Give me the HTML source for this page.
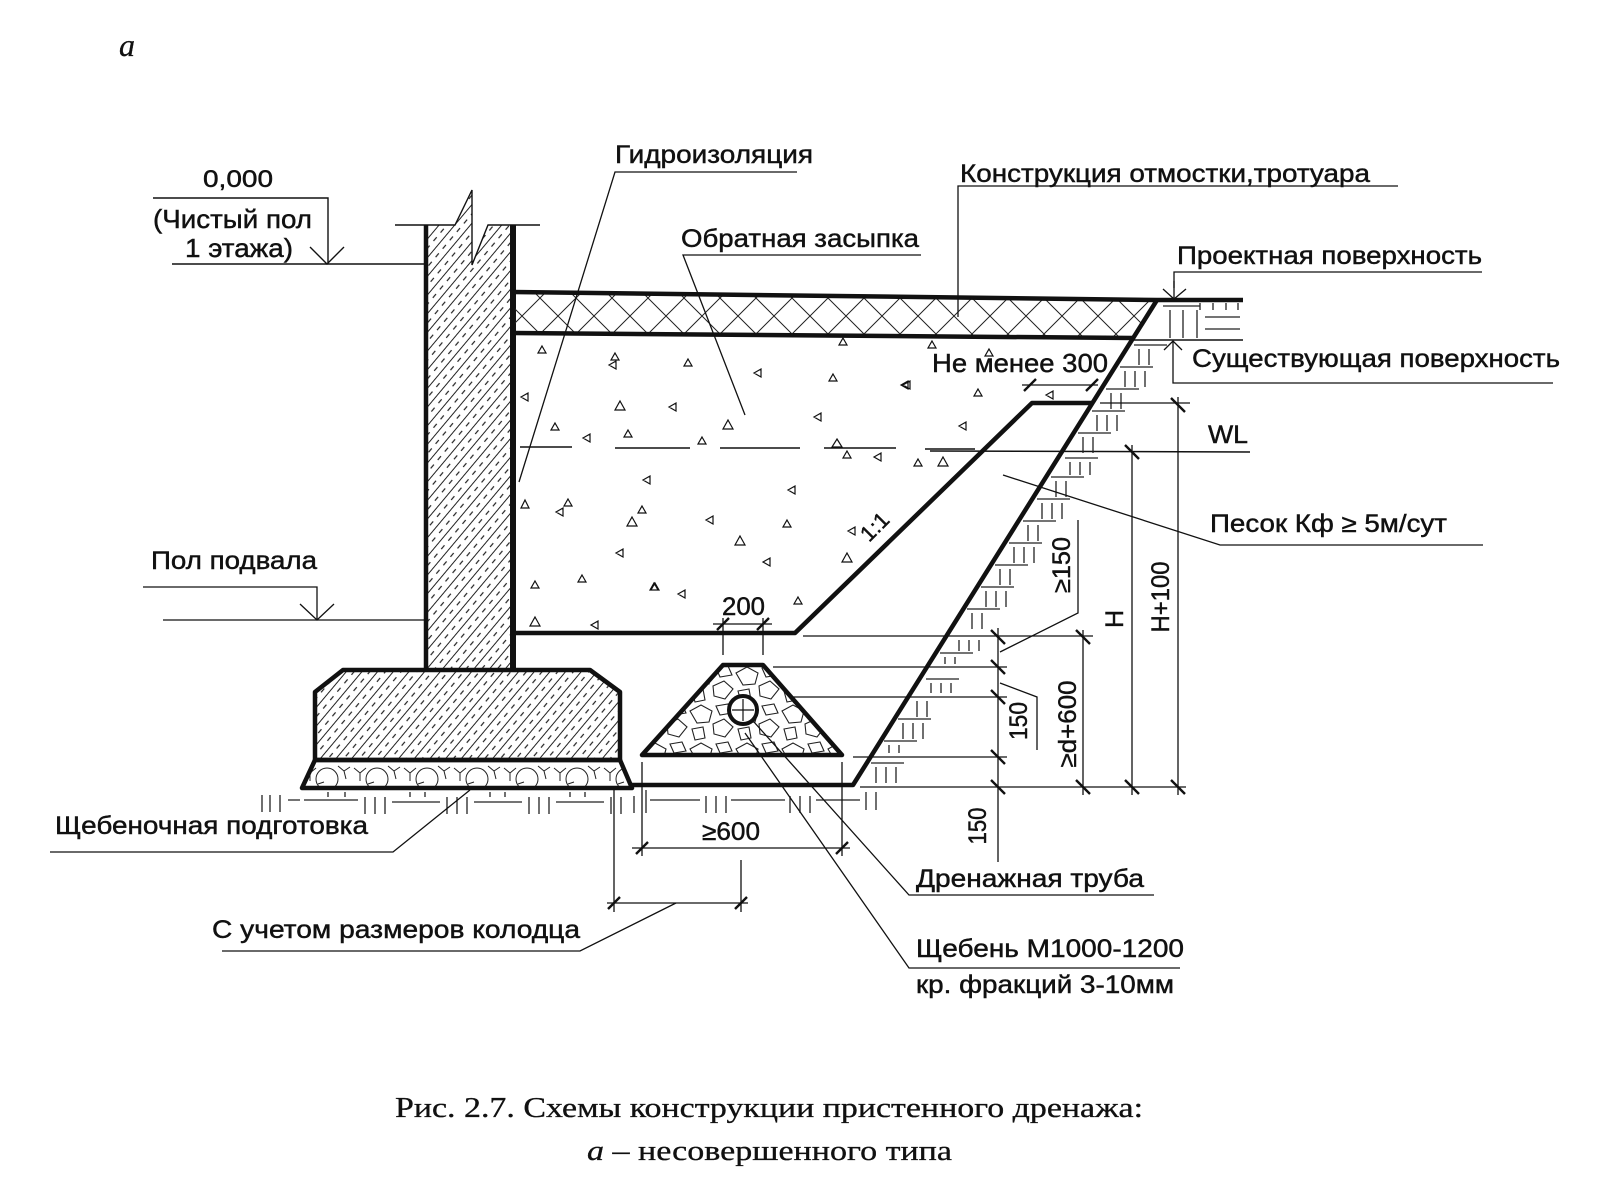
<!DOCTYPE html>
<html><head><meta charset="utf-8"><style>
html,body{margin:0;padding:0;background:#fff;}
svg{display:block}
text{font-family:"Liberation Sans","DejaVu Sans",sans-serif;fill:#111;stroke:#111;stroke-width:0.45}
.s{font-family:"Liberation Serif","DejaVu Serif",serif;stroke-width:0.3}
</style></head><body>
<svg width="1600" height="1200" viewBox="0 0 1600 1200" xmlns="http://www.w3.org/2000/svg">
<defs>
<pattern id="conc" patternUnits="userSpaceOnUse" width="12" height="22" patternTransform="rotate(40)">
 <line x1="1" y1="0" x2="1" y2="22" stroke="#222" stroke-width="1"/>
 <line x1="7" y1="0" x2="7" y2="22" stroke="#222" stroke-width="1.2" stroke-dasharray="5 6"/>
</pattern>
<pattern id="xh" patternUnits="userSpaceOnUse" x="0" y="298" width="36" height="36">
 <path d="M0 0L36 36M36 0L0 36" stroke="#222" stroke-width="1" fill="none"/>
</pattern>
<pattern id="grv" patternUnits="userSpaceOnUse" x="302" y="760" width="50" height="28">
 <circle cx="25" cy="19" r="11" fill="none" stroke="#222" stroke-width="1"/>
 <path d="M2 8L8 13L14 8M8 13L8 21M36 6L42 11L48 7M42 11L44 19M16 24L22 22" stroke="#222" stroke-width="1" fill="none"/>
</pattern>
<pattern id="stn" patternUnits="userSpaceOnUse" x="642" y="665" width="46" height="38">
 <path d="M2 8L13 2L24 8L21 19L9 20ZM25 21L36 16L45 24L37 34L26 31ZM4 26L15 24L17 35L7 37ZM28 3L40 1L44 10L32 12Z" stroke="#222" stroke-width="1.1" fill="none"/>
</pattern>
</defs>

<!-- heading letter -->
<text class="s" x="119" y="56" font-size="32" font-style="italic">а</text>

<!-- elevation 0,000 -->
<text x="203" y="187" font-size="24" textLength="70" lengthAdjust="spacingAndGlyphs">0,000</text>
<text x="153" y="228" font-size="26" textLength="159" lengthAdjust="spacingAndGlyphs">(Чистый пол</text>
<text x="185" y="257" font-size="26" textLength="108" lengthAdjust="spacingAndGlyphs">1 этажа)</text>
<g stroke="#111" stroke-width="1.4" fill="none">
 <path d="M153 198H328V264"/>
 <path d="M172 264H426"/>
 <path d="M310 247L327 264L344 247"/>
</g>

<!-- wall -->
<polygon points="426,670 426,225 455,225 472,190 472,265 488,225 513,225 513,670" fill="url(#conc)"/>
<g stroke="#111" fill="none">
 <path d="M395 225H455L472 190V265L488 225H540" stroke-width="1.4"/>
 <line x1="426" y1="225" x2="426" y2="671" stroke-width="4.5"/>
 <line x1="513" y1="225" x2="513" y2="672" stroke-width="6"/>
</g>

<!-- footing -->
<polygon points="343,670 590,670 620,692 620,760 315,760 315,692" fill="url(#conc)" stroke="#111" stroke-width="4.5" stroke-linejoin="round"/>
<polygon points="315,760 620,760 632,788 302,788" fill="url(#grv)" stroke="#111" stroke-width="4.5" stroke-linejoin="round"/>

<!-- pavement layer -->
<polygon points="515,292 1157,300 1133,338 515,333" fill="url(#xh)"/>
<g stroke="#111" stroke-width="4.5" fill="none" stroke-linejoin="round">
 <path d="M513 292L1157 300L1243 300"/>
 <path d="M513 333L1133 338"/>
 <path d="M1157 300L853 785L630 785"/>
 <path d="M515 633L795 633L1032 403L1092 403"/>
</g>

<!-- drain trapezoid -->
<polygon points="723,665 763,665 842,755 642,755" fill="url(#stn)" stroke="#111" stroke-width="4.5" stroke-linejoin="round"/>
<circle cx="743" cy="710" r="14" fill="#fff" stroke="#111" stroke-width="4"/>
<path d="M743 699V721M732 710H754" stroke="#111" stroke-width="1.2"/>

<!-- backfill triangles -->
<g stroke="#111" stroke-width="1.2" fill="none">
<path d="M542 346l4 7h-8z M615 353l4 7h-8z M609 365l7 -4v8z M688 359l4 7h-8z M754 373l7 -4v8z M833 374l4 7h-8z M901 385l7 -4v8z M843 338l4 7h-8z M932 341l4 7h-8z M521 397l7 -4v8z M620 401l5 9h-10z M669 407l7 -4v8z M814 417l7 -4v8z M959 426l7 -4v8z M555 423l4 7h-8z M628 430l4 7h-8z M583 438l7 -4v8z M702 437l4 7h-8z M728 420l5 9h-10z M837 439l5 8h-10z M847 451l4 7h-8z M874 457l7 -4v8z M918 459l4 7h-8z M943 457l5 9h-10z M643 480l7 -4v8z M788 490l7 -4v8z M525 500l4 8h-8z M568 499l4 7h-8z M556 512l7 -4v8z M642 506l4 7h-8z M632 517l5 9h-10z M706 520l7 -4v8z M787 520l4 7h-8z M848 531l7 -4v8z M740 536l5 9h-10z M847 553l5 9h-10z M616 553l7 -4v8z M763 562l7 -4v8z M535 581l4 7h-8z M582 575l4 7h-8z M654 583l4 7h-8z M678 594l7 -4v8z M798 597l4 7h-8z M535 617l5 9h-10z M591 625l7 -4v8z M989 349l4 7h-8z M903 385l7 -4v8z M978 389l4 7h-8z M1046 395l7 -4v8z M655 583l4 7h-8z"/>
</g>
<!-- water level -->
<g stroke="#111" stroke-width="1.5" fill="none">
 <path d="M520 447H572M615 448H690M720 448H800M824 448H896M925 449H975"/>
 <path d="M930 451L1250 452"/>
</g>

<!-- soil hatching right of trench -->
<g stroke="#222" stroke-width="1.3" fill="none">
<path d="M1134 345H1167M1139 349V365M1149 349V365
M1120 367H1153M1125 371V387M1135 371V387M1145 371V387
M1106 389H1139M1111 393V409M1121 393V409
M1092 411H1125M1097 415V431M1107 415V431M1117 415V431
M1078 433H1111M1083 437V453M1093 437V453
M1065 458H1098M1070 462V475M1080 462V475M1090 462V475
M1051 477H1084M1056 481V497M1066 481V497
M1037 499H1070M1042 503V519M1052 503V519M1062 503V519
M1023 521H1056M1028 525V541M1038 525V541
M1009 543H1042M1014 547V563M1024 547V563M1034 547V563
M995 565H1028M1000 569V585M1010 569V585
M981 587H1014M986 591V607M996 591V607M1006 591V607
M967 609H1000M972 613V629M982 613V629
M959 640V651M969 640V651M979 640V651
M940 653H973M945 657V664M955 657V664
M926 679H959M931 683V693M941 683V693M951 683V693
M917 701V717M927 701V717
M898 719H931M903 723V739M913 723V739M923 723V739
M884 741H917M889 745V753M899 745V753
M871 763H904M876 767V783M886 767V783M896 767V783"/>
<path d="M1200 303V310M1213 303V310M1226 303V310M1238 303V310M1163 306H1200M1170 310V338M1183 310V338M1197 310V338M1205 317H1240M1205 329H1240"/>
</g>
<path d="M1133 340H1243" stroke="#111" stroke-width="1.4"/>

<!-- soil hatching bottom -->
<g stroke="#222" stroke-width="1.3" fill="none">
<path d="M262 795V812M270 795V812M280 795V812M288 800H300
M304 800H358M365 797V814M375 797V814M385 797V814M392 802H440M447 797V814M457 797V814M467 797V814M474 802H522M529 797V814M539 797V814M549 797V814M556 802H604M611 797V814M621 797V814
M328 792V797M345 792V797M410 792V797M425 792V797M490 792V797M505 792V797M570 792V797M585 792V797
M634 796V813M646 790V813M650 800H700M706 796V813M716 796V813M726 796V813M731 800H785M790 796V813M800 796V813M810 796V813M816 800H860M866 792V810M876 792V810"/>
</g>

<!-- extension lines -->
<g stroke="#111" stroke-width="1.3" fill="none">
 <path d="M803 636H1093"/>
 <path d="M773 667H1007"/>
 <path d="M793 697H1007"/>
 <path d="M853 757H1007"/>
 <path d="M860 787H1186"/>
 <path d="M1100 403H1190"/>
 <path d="M1178 397V795"/>
 <path d="M1132 445V795"/>
 <path d="M1083 630V795"/>
 <path d="M998 628V862"/>
 <path d="M1022 385H1098"/>
 <path d="M713 624H772M723 618V655M763 618V655"/>
 <path d="M632 848H850M642 762V856M842 762V856"/>
 <path d="M607 903H748M614 790V912M741 860V912"/>
</g>
<!-- ticks -->
<g stroke="#111" stroke-width="2.4" fill="none">
 <path d="M1171 398l14 14M1171 780l14 14M1125 445l14 14M1125 780l14 14M1076 630l14 14M1076 780l14 14M991 630l14 14M991 660l14 14M991 690l14 14M991 750l14 14M991 780l14 14"/>
 <path d="M1024 391l12 -12M1086 391l12 -12M717 630l12 -12M757 630l12 -12M636 854l12 -12M836 854l12 -12M608 909l12 -12M735 909l12 -12"/>
</g>

<!-- leader lines -->
<g stroke="#111" stroke-width="1.3" fill="none">
 <path d="M797 172H615L519 482"/>
 <path d="M1398 186H958V317"/>
 <path d="M921 255H683L745 415"/>
 <path d="M1482 272H1174V300"/>
 <path d="M1163 289L1174 299L1186 289M1174 288V281"/>
 <path d="M1553 383H1173V341"/>
 <path d="M1164 350L1173 341L1182 350"/>
 <path d="M1483 545H1220L1003 475"/>
 <path d="M1000 652L1078 613V520"/>
 <path d="M1000 683L1037 697V750"/>
 <path d="M143 587H317V620"/>
 <path d="M163 620H426"/>
 <path d="M300 604L317 620L334 604"/>
 <path d="M50 852H393L470 790"/>
 <path d="M222 951H580L676 903"/>
 <path d="M1154 895H909L754 722"/>
 <path d="M1180 968H909L745 733"/>
</g>

<!-- labels -->
<text x="615" y="163" font-size="25" textLength="198" lengthAdjust="spacingAndGlyphs">Гидроизоляция</text>
<text x="960" y="182" font-size="25" textLength="410" lengthAdjust="spacingAndGlyphs">Конструкция отмостки,тротуара</text>
<text x="681" y="247" font-size="25" textLength="238" lengthAdjust="spacingAndGlyphs">Обратная засыпка</text>
<text x="1177" y="264" font-size="25" textLength="305" lengthAdjust="spacingAndGlyphs">Проектная поверхность</text>
<text x="1192" y="367" font-size="25" textLength="368" lengthAdjust="spacingAndGlyphs">Существующая поверхность</text>
<text x="932" y="372" font-size="26" textLength="176" lengthAdjust="spacingAndGlyphs">Не менее 300</text>
<text x="1208" y="443" font-size="25" textLength="40" lengthAdjust="spacingAndGlyphs">WL</text>
<text x="1210" y="532" font-size="25" textLength="237" lengthAdjust="spacingAndGlyphs">Песок Кф ≥ 5м/сут</text>
<text x="151" y="569" font-size="25" textLength="166" lengthAdjust="spacingAndGlyphs">Пол подвала</text>
<text x="722" y="615" font-size="25" textLength="43" lengthAdjust="spacingAndGlyphs">200</text>
<text x="55" y="834" font-size="25" textLength="313" lengthAdjust="spacingAndGlyphs">Щебеночная подготовка</text>
<text x="702" y="840" font-size="25" textLength="58" lengthAdjust="spacingAndGlyphs">≥600</text>
<text x="916" y="887" font-size="25" textLength="228" lengthAdjust="spacingAndGlyphs">Дренажная труба</text>
<text x="212" y="938" font-size="25" textLength="368" lengthAdjust="spacingAndGlyphs">С учетом размеров колодца</text>
<text x="916" y="957" font-size="25" textLength="268" lengthAdjust="spacingAndGlyphs">Щебень М1000-1200</text>
<text x="916" y="993" font-size="25" textLength="258" lengthAdjust="spacingAndGlyphs">кр. фракций 3-10мм</text>

<!-- rotated labels -->
<text transform="translate(880,532) rotate(-45)" font-size="22" text-anchor="middle">1:1</text>
<text transform="translate(1169,597) rotate(-90)" font-size="25" text-anchor="middle" textLength="71" lengthAdjust="spacingAndGlyphs">H+100</text>
<text transform="translate(1123,619) rotate(-90)" font-size="25" text-anchor="middle">H</text>
<text transform="translate(1076,724) rotate(-90)" font-size="25" text-anchor="middle" textLength="87" lengthAdjust="spacingAndGlyphs">≥d+600</text>
<text transform="translate(1070,565) rotate(-90)" font-size="25" text-anchor="middle" textLength="56" lengthAdjust="spacingAndGlyphs">≥150</text>
<text transform="translate(1027,721) rotate(-90)" font-size="25" text-anchor="middle" textLength="38" lengthAdjust="spacingAndGlyphs">150</text>
<text transform="translate(986,826) rotate(-90)" font-size="25" text-anchor="middle" textLength="37" lengthAdjust="spacingAndGlyphs">150</text>

<!-- caption -->
<text class="s" x="395" y="1117" font-size="28" textLength="748" lengthAdjust="spacingAndGlyphs">Рис. 2.7. Схемы конструкции пристенного дренажа:</text>
<text class="s" x="587" y="1160" font-size="28" textLength="365" lengthAdjust="spacingAndGlyphs"><tspan font-style="italic">а</tspan> – несовершенного типа</text>
</svg>
</body></html>
